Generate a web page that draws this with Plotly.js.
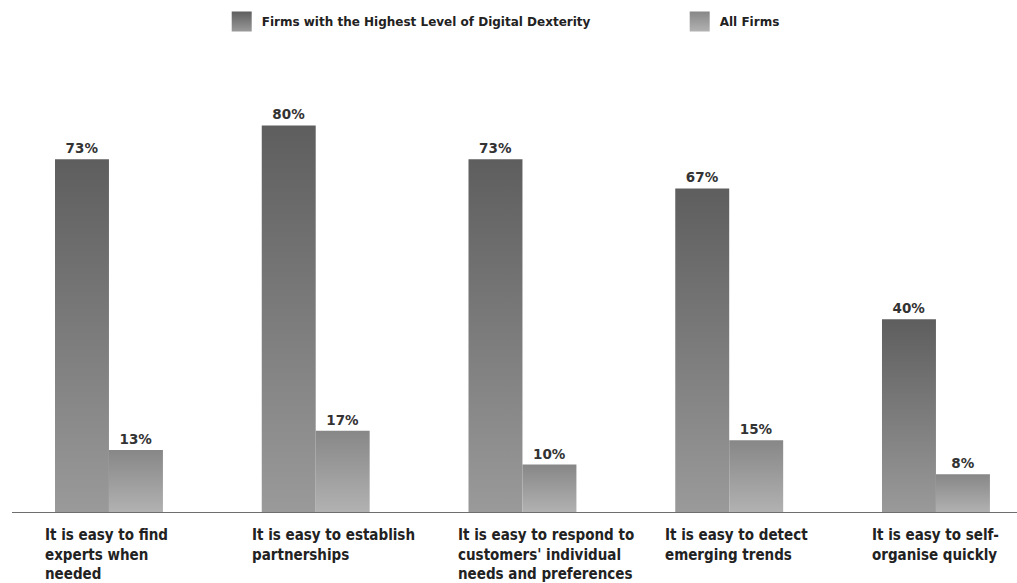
<!DOCTYPE html>
<html>
<head>
<meta charset="utf-8">
<script src="https://cdn.plot.ly/plotly-3.0.1.min.js"></script>
<style>
  html, body { margin: 0; padding: 0; background: #ffffff; }
  #chart { width: 1017px; height: 583px; }
</style>
</head>
<body>
<div id="chart"></div>
<script>
// ---- data ----
const categories = [
  'It is easy to find experts when needed',
  'It is easy to establish partnerships',
  "It is easy to respond to customers' individual needs and preferences",
  'It is easy to detect emerging trends',
  'It is easy to self-organise quickly'
];
const categoryLabels = [
  'It is easy to find<br>experts when<br>needed',
  'It is easy to establish<br>partnerships',
  "It is easy to respond to<br>customers' individual<br>needs and preferences",
  'It is easy to detect<br>emerging trends',
  'It is easy to self-<br>organise quickly'
];
const seriesNames = ['Firms with the Highest Level of Digital Dexterity', 'All Firms'];
const highestDexterity = [73, 80, 73, 67, 40];
const allFirms = [13, 17, 10, 15, 8];

// ---- styles ----
const FONT_BOLD = 'DejaVu Sans, Liberation Sans, Arial, sans-serif';
const FONT_COND = 'DejaVu Sans Condensed, DejaVu Sans, Liberation Sans, sans-serif';

const traces = [
  {
    type: 'bar', name: seriesNames[0], x: categories, y: highestDexterity,
    marker: { color: '#6a6a6a', line: { width: 0 } },
    texttemplate: '%{y}%', textposition: 'outside', cliponaxis: false,
    textfont: { family: FONT_BOLD, size: 13.5, color: '#333333', weight: 'bold' },
    hoverinfo: 'skip'
  },
  {
    type: 'bar', name: seriesNames[1], x: categories, y: allFirms,
    marker: { color: '#9a9a9a', line: { width: 0 } },
    texttemplate: '%{y}%', textposition: 'outside', cliponaxis: false,
    textfont: { family: FONT_BOLD, size: 13.5, color: '#333333', weight: 'bold' },
    hoverinfo: 'skip'
  }
];

const annotations = categories.map((c, i) => ({
  xref: 'x', yref: 'paper', x: c, y: 0,
  xanchor: 'left', yanchor: 'top', xshift: -66, yshift: -11,
  align: 'left', showarrow: false,
  text: categoryLabels[i],
  font: { family: FONT_COND, size: 15, color: '#222222', weight: 'bold' }
}));

const layout = {
  width: 1017, height: 583,
  margin: { l: 12, r: 0, t: 60, b: 70 },
  paper_bgcolor: '#ffffff', plot_bgcolor: '#ffffff',
  barmode: 'group', bargap: 0.478, bargroupgap: 0,
  showlegend: true,
  legend: {
    orientation: 'h', xref: 'container', yref: 'container',
    x: 0.218, xanchor: 'left', y: 0.988, yanchor: 'top',
    font: { family: FONT_BOLD, size: 12, color: '#222222', weight: 'bold' },
    entrywidth: 413, itemclick: false, itemdoubleclick: false
  },
  xaxis: {
    type: 'category', range: [-0.469, 4.392],
    showticklabels: false, ticks: '', showgrid: false, zeroline: false,
    showline: false, fixedrange: true
  },
  yaxis: {
    range: [0, 93.5], visible: false, showgrid: false, zeroline: false, fixedrange: true
  },
  shapes: [{
    type: 'line', xref: 'paper', yref: 'y', x0: 0, x1: 1, y0: 0, y1: 0,
    line: { color: '#6e6e6e', width: 2 }
  }],
  annotations: annotations
};

function addGradients(gd) {
  const svg = gd.querySelector('svg.main-svg');
  const ns = 'http://www.w3.org/2000/svg';
  let defs = svg.querySelector('defs');
  if (!defs) { defs = document.createElementNS(ns, 'defs'); svg.insertBefore(defs, svg.firstChild); }
  const grads = [
    { id: 'gradDark', top: '#5e5e5e', bottom: '#9a9a9a' },
    { id: 'gradLight', top: '#878787', bottom: '#b2b2b2' }
  ];
  grads.forEach(g => {
    const lg = document.createElementNS(ns, 'linearGradient');
    lg.setAttribute('id', g.id);
    lg.setAttribute('x1', '0'); lg.setAttribute('y1', '0');
    lg.setAttribute('x2', '0'); lg.setAttribute('y2', '1');
    const s1 = document.createElementNS(ns, 'stop');
    s1.setAttribute('offset', '0'); s1.setAttribute('stop-color', g.top);
    const s2 = document.createElementNS(ns, 'stop');
    s2.setAttribute('offset', '1'); s2.setAttribute('stop-color', g.bottom);
    lg.appendChild(s1); lg.appendChild(s2); defs.appendChild(lg);
  });
  const barTraces = gd.querySelectorAll('.barlayer .trace');
  barTraces.forEach((t, i) => {
    t.querySelectorAll('.point path').forEach(p => {
      p.style.fill = 'url(#' + grads[i].id + ')';
    });
  });
  const legendTraces = gd.querySelectorAll('.legend .traces');
  legendTraces.forEach((t, i) => {
    t.querySelectorAll('.legendpoints path').forEach(p => {
      p.setAttribute('d', 'M10,10H-10V-10H10Z');
      p.style.fill = 'url(#' + grads[i].id + ')';
    });
  });
}

Plotly.newPlot('chart', traces, layout, { displayModeBar: false, staticPlot: true })
  .then(addGradients);
</script>
</body>
</html>
